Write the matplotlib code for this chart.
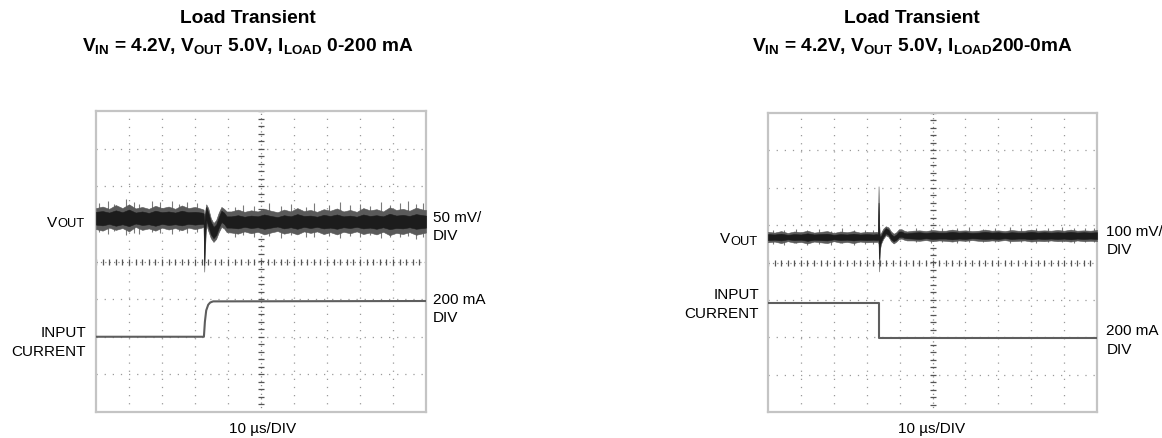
import matplotlib
matplotlib.use("Agg")
import matplotlib.pyplot as plt
import numpy as np

plt.rcParams['font.family'] = ['Liberation Sans', 'DejaVu Sans']
plt.rcParams['mathtext.fontset'] = 'custom'
plt.rcParams['mathtext.rm'] = 'Liberation Sans'
plt.rcParams['mathtext.bf'] = 'Liberation Sans:bold'
plt.rcParams['mathtext.it'] = 'Liberation Sans:italic'

# ---------------- data (scope divisions: x 0..10, y -4..4) ----------------
# Left panel: load step 0 -> 200 mA
vout1_t = [0.00, 0.20, 0.40, 0.60, 0.80, 1.00, 1.20, 1.40, 1.60, 1.80, 2.00, 2.20, 2.40, 2.60, 2.80, 3.00, 3.20,
           3.26, 3.28, 3.30,
           3.34, 3.40, 3.48, 3.56, 3.64, 3.72, 3.80, 3.88, 3.96,
           4.10, 4.30, 4.50, 4.70, 4.90, 5.10, 5.30, 5.50, 5.70, 5.90, 6.10, 6.30, 6.50, 6.70, 6.90,
           7.10, 7.30, 7.50, 7.70, 7.90, 8.10, 8.30, 8.50, 8.70, 8.90, 9.10, 9.30, 9.50, 9.70, 9.90, 10.0]
vout1_outer_hi = [1.42, 1.46, 1.40, 1.50, 1.42, 1.52, 1.41, 1.45, 1.40, 1.48, 1.42, 1.46, 1.40, 1.49, 1.42, 1.45, 1.40,
                  1.38, 1.20, 1.30,
                  1.52, 1.42, 1.15, 1.02, 1.10, 1.30, 1.45, 1.40, 1.33,
                  1.33, 1.38, 1.32, 1.36, 1.33, 1.40, 1.35, 1.31, 1.38, 1.33, 1.42, 1.34, 1.37, 1.32, 1.39,
                  1.35, 1.41, 1.33, 1.37, 1.32, 1.42, 1.36, 1.39, 1.33, 1.44, 1.37, 1.40, 1.35, 1.43, 1.38, 1.37]
vout1_outer_lo = [0.86, 0.82, 0.90, 0.84, 0.89, 0.80, 0.92, 0.84, 0.88, 0.82, 0.90, 0.85, 0.89, 0.83, 0.90, 0.86, 0.90,
                  0.92, -0.27, 0.30,
                  0.98, 0.82, 0.62, 0.52, 0.60, 0.78, 0.92, 0.88, 0.78,
                  0.77, 0.74, 0.80, 0.75, 0.79, 0.72, 0.77, 0.81, 0.74, 0.78, 0.72, 0.80, 0.76, 0.80, 0.73,
                  0.78, 0.72, 0.79, 0.75, 0.80, 0.73, 0.77, 0.72, 0.79, 0.70, 0.76, 0.73, 0.78, 0.71, 0.75, 0.77]
vout1_core_hi = [1.32, 1.34, 1.30, 1.36, 1.31, 1.38, 1.30, 1.33, 1.29, 1.35, 1.31, 1.33, 1.30, 1.35, 1.31, 1.32, 1.30,
                 1.28, 1.00, 1.20,
                 1.45, 1.30, 1.05, 0.92, 0.98, 1.18, 1.35, 1.30, 1.20,
                 1.20, 1.23, 1.19, 1.22, 1.20, 1.25, 1.21, 1.18, 1.23, 1.20, 1.26, 1.21, 1.22, 1.19, 1.24,
                 1.21, 1.25, 1.20, 1.22, 1.19, 1.25, 1.21, 1.23, 1.20, 1.27, 1.22, 1.24, 1.21, 1.26, 1.23, 1.22]
vout1_core_lo = [0.98, 0.96, 1.00, 0.95, 0.99, 0.94, 1.01, 0.97, 0.99, 0.95, 1.00, 0.97, 0.99, 0.96, 1.00, 0.98, 1.00,
                 1.00, -0.10, 0.60,
                 1.10, 0.95, 0.72, 0.62, 0.70, 0.90, 1.05, 1.00, 0.90,
                 0.90, 0.88, 0.92, 0.89, 0.91, 0.87, 0.90, 0.93, 0.88, 0.91, 0.87, 0.92, 0.89, 0.92, 0.88,
                 0.90, 0.87, 0.91, 0.89, 0.92, 0.88, 0.90, 0.87, 0.91, 0.86, 0.89, 0.88, 0.91, 0.87, 0.89, 0.90]
# individual noise spikes visible on the left Vout trace: time, bottom, top
spike1_t = [0.10, 0.35, 0.55, 0.90, 1.15, 1.30, 1.70, 1.95, 2.30, 2.50, 2.75, 3.05,
            4.20, 4.45, 4.80, 5.25, 5.60, 5.90, 6.35, 6.60, 7.05, 7.40, 7.70, 8.00, 8.30, 8.65, 8.90, 9.20,
            9.45, 9.70, 9.90]
spike1_lo = [0.78, 0.74, 0.80, 0.70, 0.76, 0.72, 0.79, 0.75, 0.73, 0.80, 0.76, 0.78,
             0.66, 0.70, 0.64, 0.68, 0.62, 0.70, 0.66, 0.64, 0.69, 0.63, 0.67, 0.65, 0.70, 0.62, 0.66, 0.64,
             0.68, 0.60, 0.66]
spike1_hi = [1.55, 1.60, 1.52, 1.66, 1.58, 1.54, 1.62, 1.57, 1.60, 1.53, 1.58, 1.56,
             1.45, 1.50, 1.47, 1.55, 1.48, 1.52, 1.46, 1.56, 1.50, 1.58, 1.49, 1.53, 1.47, 1.57, 1.51, 1.55,
             1.60, 1.52, 1.56]
cur1_t = [0.0, 3.27, 3.30, 3.34, 3.40, 3.46, 3.55, 10.0]
cur1_v = [-2.00, -2.00, -1.60, -1.30, -1.15, -1.09, -1.06, -1.05]

# Right panel: load step 200 -> 0 mA
vout2_t = [0.00, 0.20, 0.40, 0.60, 0.80, 1.00, 1.20, 1.40, 1.60, 1.80, 2.00, 2.20, 2.40, 2.60, 2.80, 3.00, 3.20,
           3.30, 3.34, 3.36, 3.38, 3.40, 3.44, 3.50, 3.58, 3.66, 3.74, 3.82, 3.90, 3.98, 4.06, 4.14, 4.22,
           4.40, 4.60, 4.80, 5.00, 5.20, 5.40, 5.60, 5.80, 6.00, 6.20, 6.40, 6.60, 6.80, 7.00,
           7.20, 7.40, 7.60, 7.80, 8.00, 8.20, 8.40, 8.60, 8.80, 9.00, 9.20, 9.40, 9.60, 9.80, 10.0]
vout2_outer_hi = [0.82, 0.80, 0.84, 0.79, 0.83, 0.81, 0.85, 0.80, 0.82, 0.84, 0.79, 0.83, 0.81, 0.84, 0.80, 0.82, 0.81,
                  0.82, 0.80, 2.04, 1.00, 0.75, 0.80, 0.90, 0.97, 0.94, 0.83, 0.77, 0.81, 0.89, 0.89, 0.85, 0.83,
                  0.85, 0.86, 0.84, 0.87, 0.85, 0.85, 0.88, 0.85, 0.86, 0.84, 0.85, 0.88, 0.85, 0.86,
                  0.84, 0.87, 0.85, 0.85, 0.88, 0.85, 0.86, 0.85, 0.87, 0.85, 0.88, 0.85, 0.86, 0.85, 0.87]
vout2_outer_lo = [0.54, 0.56, 0.52, 0.57, 0.53, 0.55, 0.51, 0.56, 0.54, 0.52, 0.57, 0.53, 0.55, 0.52, 0.56, 0.54, 0.55,
                  0.55, 0.56, 0.50, -0.24, 0.35, 0.51, 0.63, 0.73, 0.69, 0.57, 0.51, 0.56, 0.63, 0.64, 0.61, 0.59,
                  0.59, 0.58, 0.60, 0.57, 0.59, 0.58, 0.56, 0.59, 0.58, 0.60, 0.58, 0.57, 0.59, 0.58,
                  0.60, 0.57, 0.58, 0.59, 0.56, 0.58, 0.57, 0.59, 0.57, 0.58, 0.56, 0.59, 0.57, 0.58, 0.57]
vout2_core_hi = [0.76, 0.75, 0.77, 0.74, 0.76, 0.75, 0.78, 0.75, 0.76, 0.77, 0.74, 0.76, 0.75, 0.77, 0.75, 0.76, 0.75,
                 0.76, 0.75, 1.60, 0.80, 0.68, 0.72, 0.83, 0.92, 0.88, 0.76, 0.70, 0.75, 0.83, 0.83, 0.79, 0.78,
                 0.80, 0.81, 0.79, 0.81, 0.80, 0.80, 0.82, 0.80, 0.81, 0.79, 0.80, 0.82, 0.80, 0.81,
                 0.79, 0.81, 0.80, 0.80, 0.82, 0.80, 0.81, 0.80, 0.81, 0.80, 0.82, 0.80, 0.81, 0.80, 0.81]
vout2_core_lo = [0.60, 0.61, 0.59, 0.62, 0.60, 0.61, 0.58, 0.61, 0.60, 0.59, 0.62, 0.60, 0.61, 0.59, 0.61, 0.60, 0.61,
                 0.60, 0.61, 0.60, 0.10, 0.45, 0.57, 0.68, 0.78, 0.74, 0.62, 0.57, 0.61, 0.68, 0.69, 0.66, 0.65,
                 0.64, 0.63, 0.65, 0.63, 0.64, 0.64, 0.62, 0.64, 0.63, 0.65, 0.64, 0.63, 0.64, 0.63,
                 0.65, 0.63, 0.64, 0.64, 0.62, 0.64, 0.63, 0.64, 0.63, 0.64, 0.62, 0.64, 0.63, 0.64, 0.63]
spike2_t = [0.15, 0.50, 0.85, 1.20, 1.55, 1.90, 2.25, 2.60, 2.95, 3.20,
            4.50, 4.95, 5.30, 5.75, 6.10, 6.55, 6.90, 7.35, 7.70, 8.15, 8.50, 8.95, 9.30, 9.65, 9.90]
spike2_lo = [0.50, 0.47, 0.51, 0.46, 0.50, 0.48, 0.52, 0.47, 0.49, 0.50,
             0.55, 0.53, 0.56, 0.52, 0.55, 0.54, 0.56, 0.53, 0.55, 0.52, 0.56, 0.54, 0.53, 0.55, 0.54]
spike2_hi = [0.88, 0.86, 0.90, 0.87, 0.89, 0.85, 0.91, 0.88, 0.86, 0.88,
             0.92, 0.90, 0.93, 0.91, 0.94, 0.90, 0.92, 0.95, 0.91, 0.93, 0.92, 0.94, 0.91, 0.93, 0.92]
cur2_t = [0.0, 3.37, 3.37, 10.0]
cur2_v = [-1.08, -1.08, -2.02, -2.02]

titles_line1 = ["Load Transient", "Load Transient"]
titles_line2 = [r"$\mathbf{V_{IN}}$ = 4.2V, $\mathbf{V_{OUT}}$ 5.0V, $\mathbf{I_{LOAD}}$ 0-200 mA",
                r"$\mathbf{V_{IN}}$ = 4.2V, $\mathbf{V_{OUT}}$ 5.0V, $\mathbf{I_{LOAD}}$200-0mA"]
vscale_labels = ["50 mV/", "100 mV/"]
iscale_labels = ["200 mA", "200 mA"]
div_label = "DIV"
time_label = "10 \u00b5s/DIV"

# ---------------- figure ----------------
W, H = 1162, 439
fig = plt.figure(figsize=(W / 100, H / 100), dpi=100)


def fx(x):
    return x / W


def fy(y):
    return 1 - y / H


def panel(box, vt, ohi, olo, chi, clo, st, slo, shi, ct, cv):
    x0, y0, x1, y1 = box
    ax = fig.add_axes([fx(x0), fy(y1), (x1 - x0) / W, (y1 - y0) / H])
    ax.set_xlim(0, 10)
    ax.set_ylim(-4, 4)
    ax.set_xticks([])
    ax.set_yticks([])
    for s in ax.spines.values():
        s.set_color('#c4c4c4')
        s.set_linewidth(1.6)
    grid_kw = dict(color='#9a9a9a', lw=0.9, ls=(0, (1, 5.5)), zorder=1)
    for gx in range(1, 10):
        if gx != 5:
            ax.axvline(gx, **grid_kw)
    for gy in range(-3, 4):
        if gy != 0:
            ax.axhline(gy, **grid_kw)
    ax.axvline(5, color='#8a8a8a', lw=0.9, ls=(0, (1, 2.5)), zorder=1)
    ax.axhline(0, color='#8a8a8a', lw=0.9, ls=(0, (1, 2.5)), zorder=1)
    ty = np.arange(-4, 4.001, 0.2)
    tx = np.arange(0, 10.001, 0.2)
    ax.plot(np.full_like(ty, 5.0), ty, ls='none', marker='_', ms=5, mew=0.9, color='#555555', zorder=2)
    ax.plot(tx, np.zeros_like(tx), ls='none', marker='|', ms=5, mew=0.9, color='#555555', zorder=2)
    # traces
    ax.vlines(st, slo, shi, color='#7a7a7a', lw=0.8, zorder=3)
    ax.fill_between(vt, olo, ohi, color='#5a5a5a', lw=0.4, ec='#5a5a5a', zorder=3)
    ax.fill_between(vt, clo, chi, color='#1c1c1c', lw=0.4, ec='#1c1c1c', zorder=4)
    ax.plot(ct, cv, color='#5e5e5e', lw=1.5, zorder=4)
    return ax


ax1 = panel((96, 112, 426, 413), vout1_t, vout1_outer_hi, vout1_outer_lo, vout1_core_hi, vout1_core_lo,
            spike1_t, spike1_lo, spike1_hi, cur1_t, cur1_v)
ax2 = panel((768, 114, 1097, 413), vout2_t, vout2_outer_hi, vout2_outer_lo, vout2_core_hi, vout2_core_lo,
            spike2_t, spike2_lo, spike2_hi, cur2_t, cur2_v)

# titles
TS = 13.8
for cx, l1, l2 in [(248, titles_line1[0], titles_line2[0]), (912, titles_line1[1], titles_line2[1])]:
    fig.text(fx(cx), fy(23), l1, ha='center', va='baseline', fontsize=TS, fontweight='bold')
    fig.text(fx(cx), fy(51), l2, ha='center', va='baseline', fontsize=TS, fontweight='bold')

LS = 11
# left panel labels
fig.text(fx(57.5), fy(227), "V", ha='right', va='baseline', fontsize=LS)
fig.text(fx(57), fy(227.5), "OUT", ha='left', va='baseline', fontsize=9.3)
fig.text(fx(86), fy(337), "INPUT", ha='right', va='baseline', fontsize=LS)
fig.text(fx(86), fy(356), "CURRENT", ha='right', va='baseline', fontsize=LS)
fig.text(fx(433), fy(222), vscale_labels[0], ha='left', va='baseline', fontsize=LS)
fig.text(fx(433), fy(240.5), div_label, ha='left', va='baseline', fontsize=LS)
fig.text(fx(433), fy(303.5), iscale_labels[0], ha='left', va='baseline', fontsize=LS)
fig.text(fx(433), fy(322), div_label, ha='left', va='baseline', fontsize=LS)
fig.text(fx(263), fy(433), time_label, ha='center', va='baseline', fontsize=LS)

# right panel labels
fig.text(fx(730.5), fy(243.5), "V", ha='right', va='baseline', fontsize=LS)
fig.text(fx(730), fy(245), "OUT", ha='left', va='baseline', fontsize=9.3)
fig.text(fx(759), fy(299), "INPUT", ha='right', va='baseline', fontsize=LS)
fig.text(fx(759), fy(318), "CURRENT", ha='right', va='baseline', fontsize=LS)
fig.text(fx(1106.5), fy(236), vscale_labels[1], ha='left', va='baseline', fontsize=LS)
fig.text(fx(1106.5), fy(254.5), div_label, ha='left', va='baseline', fontsize=LS)
fig.text(fx(1106.5), fy(335.5), iscale_labels[1], ha='left', va='baseline', fontsize=LS)
fig.text(fx(1106.5), fy(354), div_label, ha='left', va='baseline', fontsize=LS)
fig.text(fx(932), fy(433), time_label, ha='center', va='baseline', fontsize=LS)

fig.savefig("out.png", dpi=100)
